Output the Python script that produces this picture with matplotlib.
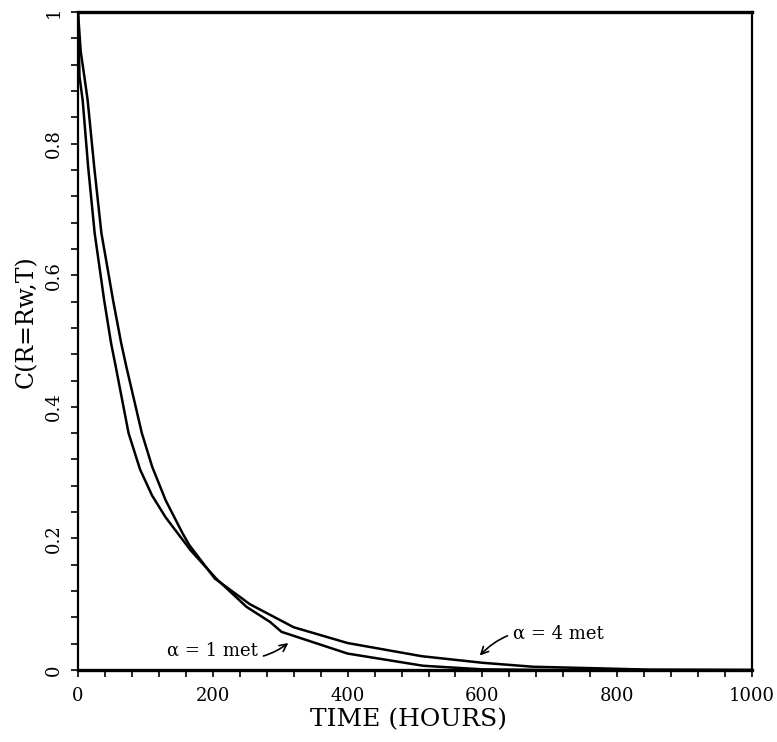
import matplotlib.pyplot as plt
from matplotlib.ticker import FixedLocator, MultipleLocator

# values
t_a1 = [0, 2.2, 6.9, 15, 24.7, 38.8, 49, 56, 75, 92, 110, 130, 167, 205, 250, 285, 302, 400, 512, 600, 700, 1000]
c_a1 = [1.0, 0.902, 0.866, 0.765, 0.664, 0.562, 0.497, 0.461, 0.36, 0.305, 0.265, 0.232, 0.182, 0.139,
        0.096, 0.073, 0.058, 0.025, 0.0065, 0.001, 0.0, 0.0]

t_a4 = [0, 4, 9, 14.3, 24, 34.7, 43.4, 52, 64, 71.7, 94.7, 110, 130, 155, 165, 203, 255, 320, 400, 510,
        600, 675, 775, 850, 1000]
c_a4 = [1.0, 0.94, 0.905, 0.866, 0.765, 0.664, 0.613, 0.562, 0.497, 0.461, 0.36, 0.309, 0.258, 0.208,
        0.19, 0.139, 0.100, 0.065, 0.041, 0.021, 0.011, 0.005, 0.0025, 0.0005, 0.0]

x_ticks = [0, 200, 400, 600, 800, 1000]
x_labels = ['0', '200', '400', '600', '800', '1000']
y_ticks = [0, 0.2, 0.4, 0.6, 0.8, 1.0]
y_labels = ['0', '0.2', '0.4', '0.6', '0.8', '1']

serif = 'DejaVu Serif'

fig = plt.figure(figsize=(7.77, 7.42), dpi=100)
ax = fig.add_axes([0.1004, 0.097, 0.8675, 0.8868])

ax.plot(t_a1, c_a1, color='black', lw=1.8)
ax.plot(t_a4, c_a4, color='black', lw=1.8)

ax.set_xlim(0, 1000)
ax.set_ylim(0, 1)

ax.xaxis.set_major_locator(FixedLocator(x_ticks))
ax.set_xticklabels(x_labels, fontfamily=serif, fontsize=13)
ax.yaxis.set_major_locator(FixedLocator(y_ticks))
ax.set_yticklabels(y_labels, fontfamily=serif, fontsize=13, rotation=90, va='center')
ax.xaxis.set_minor_locator(MultipleLocator(40))
ax.yaxis.set_minor_locator(MultipleLocator(0.04))
ax.tick_params(which='both', direction='out', length=5, width=1.2, top=False, right=False)
ax.tick_params(axis='x', pad=7)
ax.tick_params(axis='y', pad=6)

for side, w in [('top', 2.4), ('bottom', 2.4), ('left', 1.6), ('right', 1.6)]:
    ax.spines[side].set_linewidth(w)

ax.set_xlabel('TIME (HOURS)', fontfamily=serif, fontsize=18, va='center')
ax.xaxis.set_label_coords(0.49, -0.076)
ax.set_ylabel('C(R=Rw,T)', fontfamily=serif, fontsize=17, va='center')
ax.yaxis.set_label_coords(-0.077, 0.53)

ax.annotate('α = 1 met', xy=(312, 0.041), xytext=(267, 0.029),
            fontfamily=serif, fontsize=13, ha='right', va='center',
            arrowprops=dict(arrowstyle='->', color='black', lw=1.2,
                            connectionstyle='arc3,rad=0.3', shrinkA=2, shrinkB=0))
ax.annotate('α = 4 met', xy=(596, 0.022), xytext=(645, 0.055),
            fontfamily=serif, fontsize=13, ha='left', va='center',
            arrowprops=dict(arrowstyle='->', color='black', lw=1.2,
                            connectionstyle='arc3,rad=0.3', shrinkA=2, shrinkB=0))

fig.savefig('out.png', dpi=100)
